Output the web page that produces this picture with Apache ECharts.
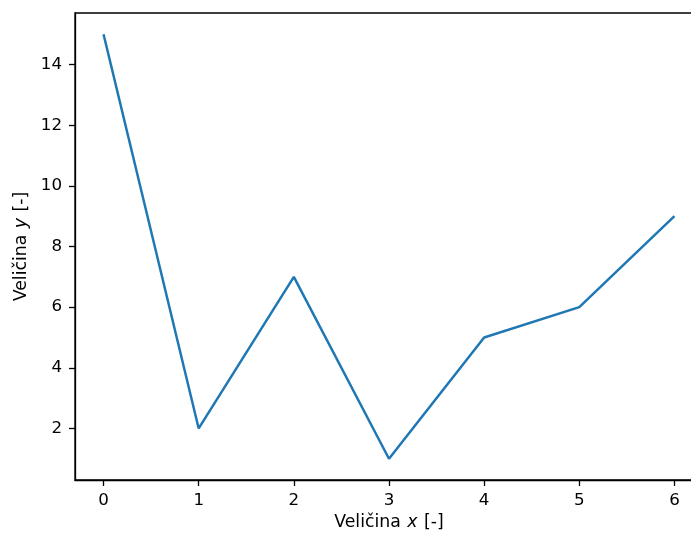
<!DOCTYPE html>
<html>
<head>
<meta charset="utf-8">
<script src="https://cdn.jsdelivr.net/npm/echarts@6/dist/echarts.min.js"></script>
<style>
  html, body { margin: 0; padding: 0; background: #fff; }
  #chart { width: 691px; height: 534px; }
</style>
</head>
<body>
<div id="chart"></div>
<script>
// Measured series
const xValues = [0, 1, 2, 3, 4, 5, 6];
const yValues = [15, 2, 7, 1, 5, 6, 9];
const xTicks = [0, 1, 2, 3, 4, 5, 6];
const yTicks = [2, 4, 6, 8, 10, 12, 14];

const FONT = 'DejaVu Sans';
const FS = 16.7;      // tick labels
const NAME_FS = 17.3; // axis titles

const chart = echarts.init(document.getElementById('chart'), null, { renderer: 'canvas' });

const axisCommon = {
  axisLine: { show: true, onZero: false, lineStyle: { color: '#000', width: 1.3 } },
  axisTick: { show: true, inside: false, length: 6, lineStyle: { color: '#000', width: 1.3 } },
  splitLine: { show: false },
  nameTextStyle: { fontFamily: FONT, fontSize: NAME_FS, color: '#000',
    rich: { i: { fontFamily: FONT, fontStyle: 'italic', fontSize: NAME_FS, color: '#000', padding: [0, 1, 0, 1] } } }
};

chart.setOption({
  animation: false,
  backgroundColor: '#fff',
  grid: { left: 75, top: 13, width: 628, height: 467, show: true,
          outerBoundsMode: 'none', containLabel: false,
          borderColor: '#000', borderWidth: 1.3, backgroundColor: 'transparent' },
  xAxis: Object.assign({}, axisCommon, {
    type: 'value', min: -0.3, max: 6.3,
    name: 'Veličina {i|x} [-]', nameLocation: 'middle', nameGap: 33,
    axisTick: Object.assign({}, axisCommon.axisTick, { customValues: xTicks }),
    axisLabel: { customValues: xTicks, margin: 12, fontFamily: FONT, fontSize: FS, color: '#000' }
  }),
  yAxis: Object.assign({}, axisCommon, {
    type: 'value', min: 0.3, max: 15.7,
    name: 'Veličina {i|y} [-]', nameLocation: 'middle', nameGap: 45, nameRotate: 90,
    axisTick: Object.assign({}, axisCommon.axisTick, { customValues: yTicks }),
    axisLabel: { customValues: yTicks, margin: 13, fontFamily: FONT, fontSize: FS, color: '#000' }
  }),
  series: [{
    type: 'line',
    data: xValues.map((x, i) => [x, yValues[i]]),
    showSymbol: false,
    lineStyle: { color: '#1f77b4', width: 2.5 },
    itemStyle: { color: '#1f77b4' }
  }]
});
</script>
</body>
</html>
